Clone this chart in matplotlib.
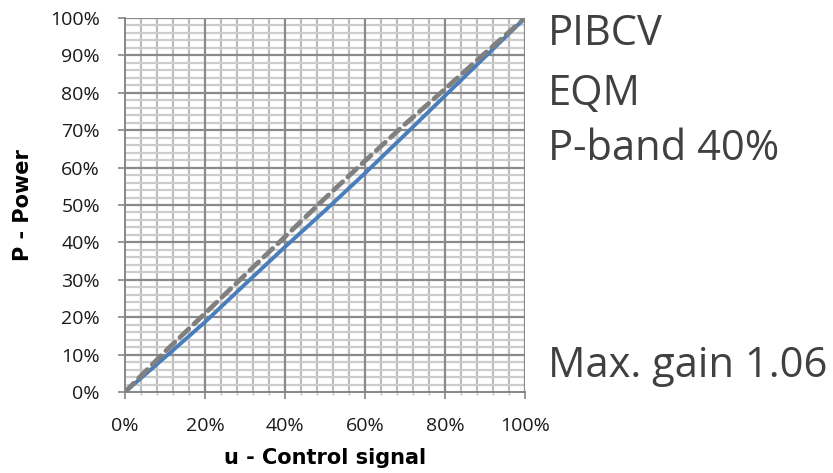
import matplotlib
matplotlib.use("Agg")
import matplotlib.pyplot as plt
from matplotlib.ticker import MultipleLocator, FuncFormatter

plt.rcParams['font.family'] = ['Open Sans', 'DejaVu Sans']

# Control signal u (%) and resulting power P (%)
u_signal = [0, 10, 20, 30, 40, 50, 60, 70, 80, 90, 100]
power_pibcv = [0, 9.3, 18.7, 28.8, 38.8, 48.5, 58.5, 68.8, 79.2, 89.6, 100]
power_ideal = [0, 10.8, 21.0, 31.3, 41.5, 51.8, 61.8, 71.6, 81.0, 90.6, 100]

annotations = ["PIBCV", "EQM", "P-band 40%"]
gain_note = "Max. gain 1.06"

fig = plt.figure(figsize=(8.33, 4.73), dpi=100)
ax = fig.add_axes([125 / 833, 1 - 392 / 473, 400 / 833, 374 / 473])

ax.set_xlim(0, 100)
ax.set_ylim(0, 100)

# Grid: minor lines behind major lines
for v in range(0, 101, 4):
    if v % 20:
        ax.axvline(v, color='#bdbdbd', lw=1.6, zorder=0.5)
for v in range(0, 101, 2):
    if v % 10:
        ax.axhline(v, color='#cdcdcd', lw=1.6, zorder=0.5)
for v in range(20, 101, 20):
    ax.axvline(v, color='#8a8a8a', lw=1.6, zorder=0.6)
for v in range(10, 101, 10):
    ax.axhline(v, color='#8a8a8a', lw=1.6, zorder=0.6)

ax.plot(u_signal, power_pibcv, color='#4a7ebb', lw=2.8, zorder=2,
        solid_capstyle='butt')
ax.plot(u_signal, power_ideal, color='#808080', lw=3.4, zorder=3,
        dashes=(2.6, 1.5), dash_capstyle='round')

ax.xaxis.set_major_locator(MultipleLocator(20))
ax.yaxis.set_major_locator(MultipleLocator(10))
ax.xaxis.set_minor_locator(MultipleLocator(4))
pct = FuncFormatter(lambda v, p: f"{v:.0f}%")
ax.xaxis.set_major_formatter(pct)
ax.yaxis.set_major_formatter(pct)

for s in ('top', 'right'):
    ax.spines[s].set_visible(False)
for s in ('left', 'bottom'):
    ax.spines[s].set_color('#868686')
    ax.spines[s].set_linewidth(1.4)

ax.tick_params(axis='both', which='major', direction='out', length=5,
               width=1.2, color='#868686', labelsize=14, labelcolor='#1a1a1a')
ax.tick_params(axis='x', which='major', pad=13)
ax.tick_params(axis='y', which='major', pad=13)
ax.tick_params(axis='x', which='minor', direction='out', length=2,
               width=1.0, color='#bdbdbd')

ax.set_xlabel("u - Control signal", fontsize=15, fontweight='bold',
              family=['DejaVu Sans'], labelpad=9)
ax.set_ylabel("P - Power", fontsize=15, fontweight='bold',
              family=['DejaVu Sans'], labelpad=12)

baselines = [45, 105, 160]
for txt, yb in zip(annotations, baselines):
    fig.text(548 / 833, 1 - yb / 473, txt, fontsize=30, color='#404040',
             va='baseline', ha='left')
fig.text(548 / 833, 1 - 377 / 473, gain_note, fontsize=30, color='#404040',
         va='baseline', ha='left')

fig.savefig("out.png", dpi=100)
